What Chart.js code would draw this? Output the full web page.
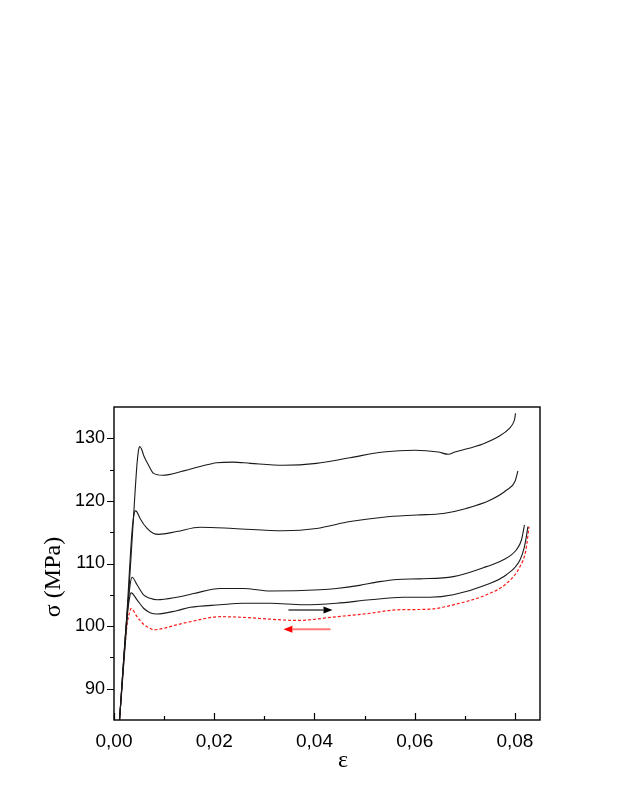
<!DOCTYPE html>
<html>
<head>
<meta charset="utf-8">
<script src="https://cdn.jsdelivr.net/npm/chart.js@4/dist/chart.umd.min.js"></script>
<style>
  html, body { margin: 0; padding: 0; background: #fff; }
  #wrap { position: relative; width: 623px; height: 806px; }
</style>
</head>
<body>
<div id="wrap"><canvas id="c"></canvas></div>
<script>
// ---- data (strain ε, stress σ in MPa) ----
const strain1 = [0.0011, 0.0026, 0.0039, 0.0046, 0.0049, 0.0051, 0.0055, 0.0059, 0.0069, 0.0079, 0.0097, 0.0139, 0.0172, 0.0205, 0.0238, 0.0272, 0.0338, 0.0404, 0.0471, 0.0537, 0.0600, 0.0647, 0.0667, 0.0680, 0.0736, 0.0770, 0.0789, 0.0797, 0.0800, 0.0801];
const stress1 = [85, 101, 117.5, 126.0, 128.1, 128.7, 128.3, 127.3, 125.7, 124.4, 124.1, 124.8, 125.5, 126.1, 126.2, 126.0, 125.7, 126.0, 126.9, 127.8, 128.1, 127.8, 127.45, 127.8, 129.1, 130.4, 131.6, 132.5, 133.3, 134.0];

const strain2 = [0.0011, 0.0025, 0.0036, 0.0040, 0.00424, 0.0046, 0.0052, 0.0066, 0.0079, 0.0089, 0.0125, 0.0172, 0.0238, 0.0338, 0.0404, 0.0471, 0.0537, 0.0604, 0.0657, 0.0703, 0.0750, 0.0783, 0.0800, 0.0806];
const stress2 = [85, 101, 115.2, 117.9, 118.4, 118.2, 117.2, 115.6, 114.8, 114.66, 115.1, 115.78, 115.6, 115.24, 115.6, 116.7, 117.4, 117.75, 118.0, 118.8, 120.1, 121.7, 123.1, 124.8];

const strain3 = [0.0011, 0.0025, 0.0032, 0.0036, 0.0046, 0.0059, 0.0072, 0.0086, 0.0125, 0.0159, 0.0212, 0.0258, 0.0312, 0.0411, 0.0444, 0.0490, 0.0530, 0.0565, 0.0610, 0.0677, 0.0743, 0.0776, 0.0803, 0.0813, 0.0819];
const stress3 = [85, 101, 106.5, 107.8, 106.6, 105.0, 104.44, 104.2, 104.6, 105.2, 106.0, 106.0, 105.6, 105.8, 106.0, 106.5, 107.1, 107.45, 107.55, 107.9, 109.5, 110.55, 112.2, 113.75, 116.15];

const strain4 = [0.0011, 0.0025, 0.0031, 0.0034, 0.0046, 0.0059, 0.0072, 0.0086, 0.0125, 0.0152, 0.0212, 0.0258, 0.0312, 0.0378, 0.0444, 0.0511, 0.0577, 0.0630, 0.0677, 0.0743, 0.0783, 0.0810, 0.0819, 0.0826];
const stress4 = [85, 100.5, 104.5, 105.3, 104.2, 102.85, 102.15, 101.94, 102.46, 103.0, 103.4, 103.65, 103.65, 103.4, 103.65, 104.2, 104.6, 104.6, 105.0, 106.6, 108.2, 110.55, 112.7, 115.9];

const strain5 = [0.0011, 0.0025, 0.0031, 0.0034, 0.0046, 0.0059, 0.0072, 0.0079, 0.0099, 0.0125, 0.0152, 0.0212, 0.0258, 0.0312, 0.0365, 0.0444, 0.0511, 0.0564, 0.0630, 0.0677, 0.0743, 0.0783, 0.0810, 0.0822, 0.0828];
const stress5 = [85, 99.5, 102.2, 102.8, 101.5, 100.3, 99.65, 99.4, 99.65, 100.2, 100.7, 101.5, 101.4, 101.1, 100.9, 101.5, 102.05, 102.6, 102.7, 103.4, 105.0, 106.8, 109.5, 112.2, 115.9];

const xMajorTicks = [0, 0.02, 0.04, 0.06, 0.08];
const xTickLabels = ['0,00', '0,02', '0,04', '0,06', '0,08'];
const yMajorTicks = [90, 100, 110, 120, 130];
const yTickLabels = ['90', '100', '110', '120', '130'];

// arrows (data units): loading direction and unloading direction
const arrowLoad = [0.0348, 0.0436, 102.57];    // from, to, stress
const arrowUnload = [0.0432, 0.0338, 99.5];

const pts = (xs, ys) => xs.map((v, i) => ({ x: v, y: ys[i] }));
const black = { borderColor: '#1a1a1a', borderWidth: 1.1, showLine: true, pointRadius: 0, cubicInterpolationMode: 'monotone', fill: false };

const decor = {
  id: 'decor',
  afterDraw(chart) {
    const { ctx, chartArea: a, scales: { x, y } } = chart;
    ctx.save();
    // frame
    ctx.strokeStyle = '#000';
    ctx.lineWidth = 1.4;
    ctx.strokeRect(a.left, a.top, a.right - a.left, a.bottom - a.top);
    // x ticks (inward), major at even hundredths, minor at odd
    ctx.lineWidth = 1.2;
    ctx.beginPath();
    for (let i = 0; i <= 8; i++) {
      const px = Math.round(x.getPixelForValue(i / 100)) + 0.5;
      const len = (i % 2 === 0) ? 7 : 4;
      ctx.moveTo(px, a.bottom);
      ctx.lineTo(px, a.bottom - len);
    }
    // y ticks (outward), major at tens, minor at fives
    for (let v = 90; v <= 130; v += 5) {
      const py = Math.round(y.getPixelForValue(v)) + 0.5;
      const len = (v % 10 === 0) ? 7 : 4;
      ctx.moveTo(a.left, py);
      ctx.lineTo(a.left - len, py);
    }
    ctx.stroke();

    // arrows
    function arrow(spec, lineColor, headColor) {
      const x0 = x.getPixelForValue(spec[0]);
      const x1 = x.getPixelForValue(spec[1]);
      const py = y.getPixelForValue(spec[2]);
      const dir = Math.sign(x1 - x0);
      const headLen = 9, halfW = 3.5;
      ctx.strokeStyle = lineColor;
      ctx.lineWidth = 2;
      ctx.beginPath();
      ctx.moveTo(x0, py);
      ctx.lineTo(x1 - dir * headLen, py);
      ctx.stroke();
      ctx.fillStyle = headColor;
      ctx.beginPath();
      ctx.moveTo(x1, py);
      ctx.lineTo(x1 - dir * headLen, py - halfW);
      ctx.lineTo(x1 - dir * headLen, py + halfW);
      ctx.closePath();
      ctx.fill();
    }
    arrow(arrowLoad, '#707070', '#000');
    arrow(arrowUnload, '#ff7a7a', '#ff0000');

    // axis titles
    ctx.fillStyle = '#000';
    ctx.font = '24px "Liberation Serif", "Times New Roman", serif';
    ctx.textAlign = 'center';
    ctx.textBaseline = 'middle';
    ctx.fillText('ε', 343, 761);
    ctx.translate(54, 577);
    ctx.rotate(-Math.PI / 2);
    ctx.fillText('σ (MPa)', 0, 0);
    ctx.restore();
  }
};

new Chart(document.getElementById('c'), {
  type: 'scatter',
  data: {
    datasets: [
      Object.assign({ label: 'curve 1', data: pts(strain1, stress1) }, black),
      Object.assign({ label: 'curve 2', data: pts(strain2, stress2) }, black),
      Object.assign({ label: 'curve 3', data: pts(strain3, stress3) }, black),
      Object.assign({ label: 'curve 4', data: pts(strain4, stress4) }, black),
      { label: 'curve 5', data: pts(strain5, stress5), borderColor: '#ff1a1a', borderWidth: 1.2, borderDash: [3, 2],
        showLine: true, pointRadius: 0, cubicInterpolationMode: 'monotone', fill: false }
    ]
  },
  options: {
    responsive: true,
    maintainAspectRatio: false,
    animation: false,
    layout: { padding: { top: 407, right: 83, bottom: 0, left: 0 } },
    plugins: { legend: { display: false }, tooltip: { enabled: false } },
    scales: {
      x: {
        type: 'linear',
        min: 0,
        max: 0.085,
        grid: { display: false, drawTicks: false },
        border: { display: false },
        afterBuildTicks: s => { s.ticks = xMajorTicks.map(v => ({ value: v })); },
        afterFit: s => { s.height = 86; s.paddingLeft = 0; s.paddingRight = 0; },
        ticks: {
          autoSkip: false, maxRotation: 0, padding: 10, color: '#000',
          font: { family: '"Liberation Sans", Arial, sans-serif', size: 19 },
          callback: (v, i) => xTickLabels[i]
        }
      },
      y: {
        type: 'linear',
        min: 85,
        max: 135,
        grid: { display: false, drawTicks: false },
        border: { display: false },
        afterBuildTicks: s => { s.ticks = yMajorTicks.map(v => ({ value: v })); },
        afterFit: s => { s.width = 114; s.paddingTop = 0; s.paddingBottom = 0; },
        ticks: {
          autoSkip: false, padding: 9, color: '#000',
          font: { family: '"Liberation Sans", Arial, sans-serif', size: 18 },
          callback: (v, i) => yTickLabels[i]
        }
      }
    }
  },
  plugins: [decor]
});
</script>
</body>
</html>
